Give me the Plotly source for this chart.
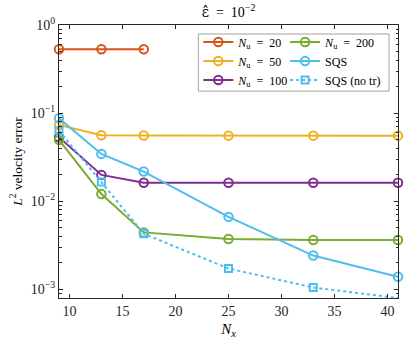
import plotly.graph_objects as go

# grid sizes
nx = [9, 13, 17, 25, 33, 41]

# L2 velocity errors
err_nu20 = [0.53, 0.53, 0.53]
err_nu50 = [0.073, 0.056, 0.0555, 0.0553, 0.0553, 0.0553]
err_nu100 = [0.053, 0.0198, 0.0161, 0.0161, 0.0161, 0.0161]
err_nu200 = [0.0495, 0.012, 0.0044, 0.0037, 0.0036, 0.0036]
err_sqs = [0.087, 0.0343, 0.0216, 0.0066, 0.0024, 0.00138]
err_sqs_notr = [0.063, 0.0165, 0.00425, 0.00171, 0.00104, 0.00079]

ytick_vals = [1e-3, 1e-2, 1e-1, 1]
ytick_text = ["10<sup>−3</sup>", "10<sup>−2</sup>", "10<sup>−1</sup>", "10<sup>0</sup>"]
yminor_vals = [m * 10.0 ** e for e in range(-4, 0) for m in range(2, 10)]

FONT = "Liberation Serif"
AXIS_COLOR = "#262626"
EQ = "\u2002=\u2002"

fig = go.Figure()

series = [
    ("<i>N</i><sub>u</sub>" + EQ + "20", nx[:3], err_nu20, "#D95319", "legend"),
    ("<i>N</i><sub>u</sub>" + EQ + "50", nx, err_nu50, "#EDB120", "legend"),
    ("<i>N</i><sub>u</sub>" + EQ + "100", nx, err_nu100, "#7E2F8E", "legend"),
    ("<i>N</i><sub>u</sub>" + EQ + "200", nx, err_nu200, "#77AC30", "legend2"),
    ("SQS", nx, err_sqs, "#4DBEEE", "legend2"),
]
for name, x, y, color, leg in series:
    fig.add_trace(go.Scatter(
        x=x, y=y, name=name, mode="lines+markers", legend=leg,
        line=dict(color=color, width=2),
        marker=dict(symbol="circle-open", size=8.5, color=color, line=dict(width=2)),
        cliponaxis=False,
    ))

fig.add_trace(go.Scatter(
    x=nx, y=err_sqs_notr, name="SQS (no tr)", mode="lines+markers", legend="legend2",
    line=dict(color="#4DBEEE", width=2, dash="dot"),
    marker=dict(symbol="square-open", size=7, color="#4DBEEE", line=dict(width=2)),
    cliponaxis=False,
))

# legend frame (two columns)
fig.add_shape(type="rect", xref="paper", yref="paper",
              x0=0.411, x1=0.9735, y0=0.758, y1=0.967,
              line=dict(color="#A0A0A0", width=1), fillcolor="white", layer="above")

leg_common = dict(yanchor="top", xanchor="left", bgcolor="rgba(0,0,0,0)",
                  borderwidth=0, font=dict(family=FONT, size=12, color="black"))
fig.update_layout(
    legend=dict(x=0.411, y=0.991, **leg_common),
    legend2=dict(x=0.667, y=0.991, **leg_common),
)

fig.update_layout(
    width=407, height=343,
    margin=dict(l=58.5, r=9, t=25, b=44.7, autoexpand=False),
    paper_bgcolor="white", plot_bgcolor="white",
    font=dict(family=FONT, size=13, color=AXIS_COLOR),
    title=dict(text="<span style='font-family:DejaVu Serif'>ε̂</span>" + EQ + "10<sup>−2</sup>",
               x=0.5, xref="paper",
               y=1 - 12 / 343, yref="container", yanchor="middle", xanchor="center",
               font=dict(family=FONT, size=14, color="black")),
)

fig.update_xaxes(
    range=[9, 41], tickvals=[10, 15, 20, 25, 30, 35, 40],
    ticks="inside", ticklen=4, tickcolor=AXIS_COLOR,
    showline=True, linecolor=AXIS_COLOR, linewidth=1, mirror="ticks",
    showgrid=False, zeroline=False,
    title=dict(text="<i>N</i><sub><i>x</i></sub>", standoff=5, font=dict(size=15, color="black")),
    tickfont=dict(size=14, color=AXIS_COLOR),
)
fig.update_yaxes(
    type="log", range=[-3.102, 0],
    tickvals=ytick_vals, ticktext=ytick_text,
    ticks="inside", ticklen=4, tickcolor=AXIS_COLOR,
    minor=dict(tickmode="array", tickvals=yminor_vals, ticks="inside", ticklen=2.5,
               tickcolor=AXIS_COLOR, showgrid=False),
    showline=True, linecolor=AXIS_COLOR, linewidth=1, mirror="ticks",
    showgrid=False, zeroline=False,
    title=dict(text="<i>L</i><sup>2</sup> velocity error", standoff=5,
               font=dict(size=13.5, color="black")),
    tickfont=dict(size=14, color=AXIS_COLOR),
)

# page body has a default 8px margin; drop it so the figure sits at the corner
fig.write_html("out.html", config={"displayModeBar": False},
               post_script="document.body.style.margin='0px';")
